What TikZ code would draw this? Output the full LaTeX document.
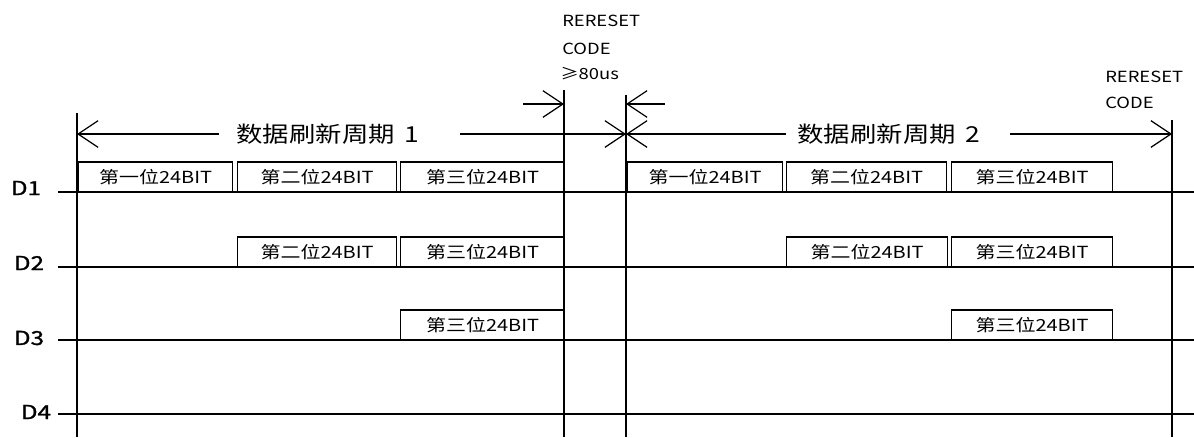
\documentclass[tikz,border=0pt]{standalone}
\usepackage{fontspec}
\setmainfont{Noto Sans CJK SC}[FakeStretch=1.2]
\newfontfamily\heavyfont{Noto Sans CJK SC}[FakeStretch=1.25,FakeBold=1.2]
\usetikzlibrary{arrows.meta}
\begin{document}
\begin{tikzpicture}[x=0.75pt,y=-0.75pt,
  sig/.style={line width=2.2pt},
  vline/.style={line width=1.5pt},
  bitbox/.style={draw,line width=0.9pt,inner sep=0pt,anchor=south west,
    minimum height=22pt,font=\fontsize{12.5}{13}\selectfont},
  bw/.style={minimum width={#1*0.75pt}},
  dim/.style={line width=0.9pt},
  barb/.style={-{Straight Barb[length=15pt,width=20pt,line width=0.9pt]}},
  dlabel/.style={inner sep=0pt,font=\heavyfont\fontsize{14.5}{15}\selectfont},
  title/.style={inner sep=0pt,font=\fontsize{16.5}{17}\selectfont},
  note/.style={inner sep=0pt,anchor=west,font=\fontsize{11.5}{12}\selectfont}
]
\useasboundingbox (0,0) rectangle (1194,437);

% ---- bit boxes ----
\node[bitbox,bw=154] (a11) at (78,192) {第一位24BIT};
\node[bitbox,bw=159] (a12) at (237,192) {第二位24BIT};
\node[bitbox,bw=164] (a13) at (400,192) {第三位24BIT};
\node[bitbox,bw=155] (b11) at (627,192) {第一位24BIT};
\node[bitbox,bw=160] (b12) at (786,192) {第二位24BIT};
\node[bitbox,bw=161] (b13) at (951,192) {第三位24BIT};

\node[bitbox,bw=159] (a22) at (237,267) {第二位24BIT};
\node[bitbox,bw=164] (a23) at (400,267) {第三位24BIT};
\node[bitbox,bw=161] (b22) at (786,267) {第二位24BIT};
\node[bitbox,bw=161] (b23) at (951,267) {第三位24BIT};

\node[bitbox,bw=164] (a33) at (400,340) {第三位24BIT};
\node[bitbox,bw=161] (b33) at (951,340) {第三位24BIT};

% ---- signal lines ----
\node[dlabel] (d1) at (26,188) {D1};
\node[dlabel] (d2) at (29,263) {D2};
\node[dlabel] (d3) at (29,338) {D3};
\node[dlabel] (d4) at (36,412) {D4};
\coordinate (d1s) at (58,192); \coordinate (d1e) at (1194,192);
\coordinate (d2s) at (58,267); \coordinate (d2e) at (1194,267);
\coordinate (d3s) at (58,340); \coordinate (d3e) at (1194,340);
\coordinate (d4s) at (58,414); \coordinate (d4e) at (1194,414);
\draw[sig] (d1s) -- (d1e);
\draw[sig] (d2s) -- (d2e);
\draw[sig] (d3s) -- (d3e);
\draw[sig] (d4s) -- (d4e);

% ---- vertical lines ----
\coordinate (v1t) at (77,113);   \coordinate (v1b) at (77,437);
\coordinate (v2t) at (564,90);   \coordinate (v2b) at (564,437);
\coordinate (v3t) at (626,95);   \coordinate (v3b) at (626,437);
\coordinate (v4t) at (1172,120); \coordinate (v4b) at (1172,437);
\draw[vline] (v1t) -- (v1b);
\draw[vline] (v2t) -- (v2b);
\draw[vline] (v3t) -- (v3b);
\draw[vline] (v4t) -- (v4b);

% ---- refresh period 1 ----
\node[title] (t1) at (328,134) {数据刷新周期\hspace{0.45em}1};
\coordinate (p1a) at (77,134);  \coordinate (p1b) at (219,134);
\coordinate (p1c) at (460,134); \coordinate (p1d) at (626,134);
\draw[dim,barb] (p1b) -- (p1a);
\draw[dim,barb] (p1c) -- (p1d);

% ---- refresh period 2 ----
\node[title] (t2) at (889,134) {数据刷新周期\hspace{0.45em}2};
\coordinate (p2a) at (626,134);  \coordinate (p2b) at (786,134);
\coordinate (p2c) at (1010,134); \coordinate (p2d) at (1172,134);
\draw[dim,barb] (p2b) -- (p2a);
\draw[dim,barb] (p2c) -- (p2d);

% ---- reset gap ----
\coordinate (r1a) at (523,104); \coordinate (r1b) at (564,104);
\coordinate (r2a) at (665,104); \coordinate (r2b) at (626,104);
\draw[dim,barb] (r1a) -- (r1b);
\draw[dim,barb] (r2a) -- (r2b);

\node[note] (n1) at (562,21) {RERESET};
\node[note] (n2) at (562,49) {CODE};
\node[note] (n3) at (560,74) {≥80us};
\node[note] (n4) at (1105,77) {RERESET};
\node[note] (n5) at (1105,103) {CODE};
\end{tikzpicture}
\end{document}
